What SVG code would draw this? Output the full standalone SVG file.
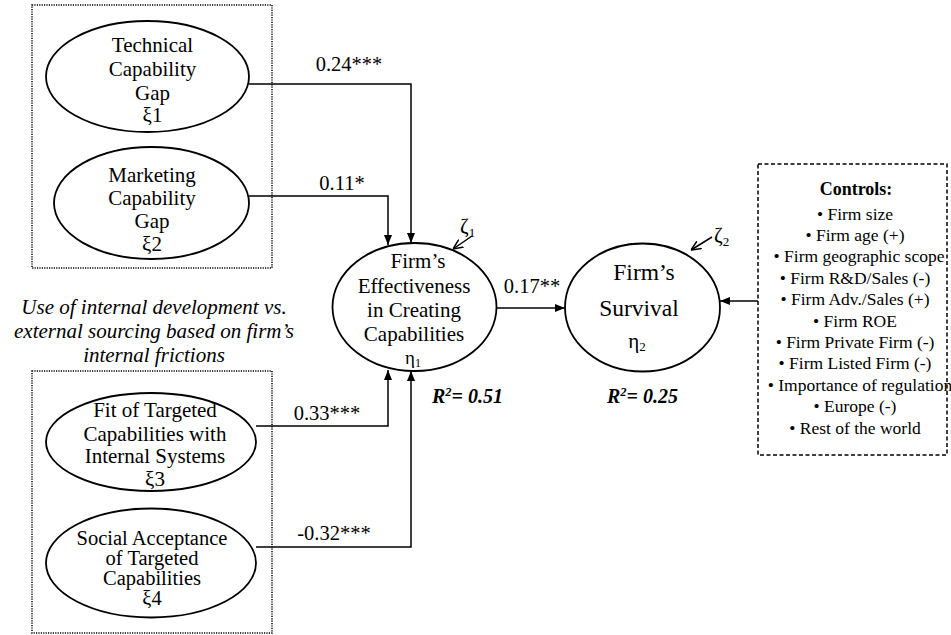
<svg xmlns="http://www.w3.org/2000/svg" width="951" height="635" viewBox="0 0 951 635" font-family="'Liberation Serif', 'DejaVu Serif', serif">
<style>
text{font-family:'Liberation Serif','DejaVu Serif',serif;fill:#000}
.n{font-size:21px;text-anchor:middle}
.n2{font-size:20.5px;text-anchor:middle}
.s{font-size:23.5px;text-anchor:middle}
.lab{font-size:20.5px;text-anchor:middle}
.it{font-size:21px;font-style:italic;text-anchor:middle}
.r2{font-size:20px;font-style:italic;font-weight:bold}
.ctl{font-size:17.5px;text-anchor:middle}
.ell{fill:#fff;stroke:#000;stroke-width:1.8}
.dot{fill:none;stroke:#000;stroke-width:1.5;stroke-dasharray:1.2 1.2}
.dash{fill:none;stroke:#000;stroke-width:1.5;stroke-dasharray:4 2.5}
.c{fill:none;stroke:#000;stroke-width:1.5}
</style>
<defs>
<marker id="ah" viewBox="0 0 10 8" refX="10" refY="4" markerWidth="10" markerHeight="8" markerUnits="userSpaceOnUse" orient="auto">
<path d="M0,0 L10,4 L0,8 z" fill="#000"/>
</marker>
<marker id="av" viewBox="0 0 10 10" refX="10" refY="5" markerWidth="10" markerHeight="10" markerUnits="userSpaceOnUse" orient="auto">
<path d="M0,0.5 L10,5 L0,9.5" fill="none" stroke="#000" stroke-width="1.5"/>
</marker>
</defs>
<rect width="951" height="635" fill="#fff"/>

<g id="boxes">
<rect class="dot" x="32" y="5" width="240" height="263"/>
<rect class="dot" x="32" y="371" width="240" height="262"/>
<rect class="dash" x="758" y="164" width="189" height="291"/>
</g>

<g id="connectors">
<path class="c" d="M249,84 H411 V243" marker-end="url(#ah)"/>
<path class="c" d="M249,196 H388 V245" marker-end="url(#ah)"/>
<path class="c" d="M256,426 H388 V370" marker-end="url(#ah)"/>
<path class="c" d="M256,547 H411 V371" marker-end="url(#ah)"/>
<path class="c" d="M487,308 H565" marker-end="url(#ah)"/>
<path class="c" d="M758,301 H720" marker-end="url(#ah)"/>
<path class="c" d="M472,236 L453,249" marker-end="url(#av)"/>
<path class="c" d="M712,237 L691,250" marker-end="url(#av)"/>
</g>

<g id="xi1">
<ellipse class="ell" cx="147.5" cy="76.5" rx="101.5" ry="55.5"/>
<text class="n" x="152.5" y="52">Technical</text>
<text class="n" x="152.5" y="76">Capability</text>
<text class="n" x="152.5" y="100">Gap</text>
<text class="n" x="152.5" y="122">ξ1</text>
</g>

<g id="xi2">
<ellipse class="ell" cx="151.5" cy="203" rx="97.5" ry="56"/>
<text class="n" x="152" y="182">Marketing</text>
<text class="n" x="152" y="205">Capability</text>
<text class="n" x="152" y="228">Gap</text>
<text class="n" x="152" y="251">ξ2</text>
</g>

<g id="xi3">
<ellipse class="ell" cx="151" cy="442" rx="105" ry="49"/>
<text class="n" x="155" y="417">Fit of Targeted</text>
<text class="n" x="155" y="441">Capabilities with</text>
<text class="n" x="155" y="463">Internal Systems</text>
<text class="n" x="155" y="486">ξ3</text>
</g>

<g id="xi4">
<ellipse class="ell" cx="151" cy="563" rx="105" ry="54.5"/>
<text class="n2" x="152" y="545">Social Acceptance</text>
<text class="n2" x="152" y="565">of Targeted</text>
<text class="n2" x="152" y="585">Capabilities</text>
<text class="n2" x="152" y="605">ξ4</text>
</g>

<g id="eta1">
<ellipse class="ell" cx="414.5" cy="307" rx="82" ry="64"/>
<text class="n" x="418" y="268">Firm’s</text>
<text class="n" x="414" y="293">Effectiveness</text>
<text class="n" x="414" y="317">in Creating</text>
<text class="n" x="414" y="341">Capabilities</text>
<text x="413" y="364" font-size="19" text-anchor="middle">η<tspan font-size="12" dy="3">1</tspan></text>
</g>

<g id="eta2">
<ellipse class="ell" cx="642.5" cy="307.5" rx="77.5" ry="64"/>
<text class="s" x="644" y="280">Firm’s</text>
<text class="s" x="639" y="316">Survival</text>
<text class="n" x="637" y="348">η<tspan font-size="13" dy="3">2</tspan></text>
</g>

<g id="zeta1">
<text x="460" y="233" font-size="21">ζ<tspan font-size="13" dy="4">1</tspan></text>
</g>
<g id="zeta2">
<text x="714" y="242" font-size="21">ζ<tspan font-size="13" dy="4">2</tspan></text>
</g>

<g id="controls">
<text x="856" y="195" font-size="18" font-weight="bold" text-anchor="middle">Controls:</text>
<text class="ctl" x="855" y="219.5">• Firm size</text>
<text class="ctl" x="855" y="240.9">• Firm age (+)</text>
<text class="ctl" x="859" y="262.3">• Firm geographic scope</text>
<text class="ctl" x="855" y="283.7">• Firm R&amp;D/Sales (-)</text>
<text class="ctl" x="855" y="305.1">• Firm Adv./Sales (+)</text>
<text class="ctl" x="855" y="326.5">• Firm ROE</text>
<text class="ctl" x="855" y="347.9">• Firm Private Firm (-)</text>
<text class="ctl" x="855" y="369.3">• Firm Listed Firm (-)</text>
<text class="ctl" x="860" y="390.7">• Importance of regulation</text>
<text class="ctl" x="855" y="412.1">• Europe (-)</text>
<text class="ctl" x="855" y="433.5">• Rest of the world</text>
</g>

<g id="labels">
<text class="lab" x="349" y="71">0.24***</text>
<text class="lab" x="342" y="190">0.11*</text>
<text class="lab" x="327" y="420">0.33***</text>
<text class="lab" x="334" y="540">-0.32***</text>
<text class="lab" x="532" y="293">0.17**</text>
<text class="it" x="154" y="314">Use of internal development vs.</text>
<text class="it" x="154" y="338">external sourcing based on firm’s</text>
<text class="it" x="154" y="362">internal frictions</text>
<text class="r2" x="432" y="403">R<tspan font-size="12.5" dy="-7">2</tspan><tspan dy="7">=  0.51</tspan></text>
<text class="r2" x="607" y="403">R<tspan font-size="12.5" dy="-7">2</tspan><tspan dy="7">=  0.25</tspan></text>
</g>
</svg>
